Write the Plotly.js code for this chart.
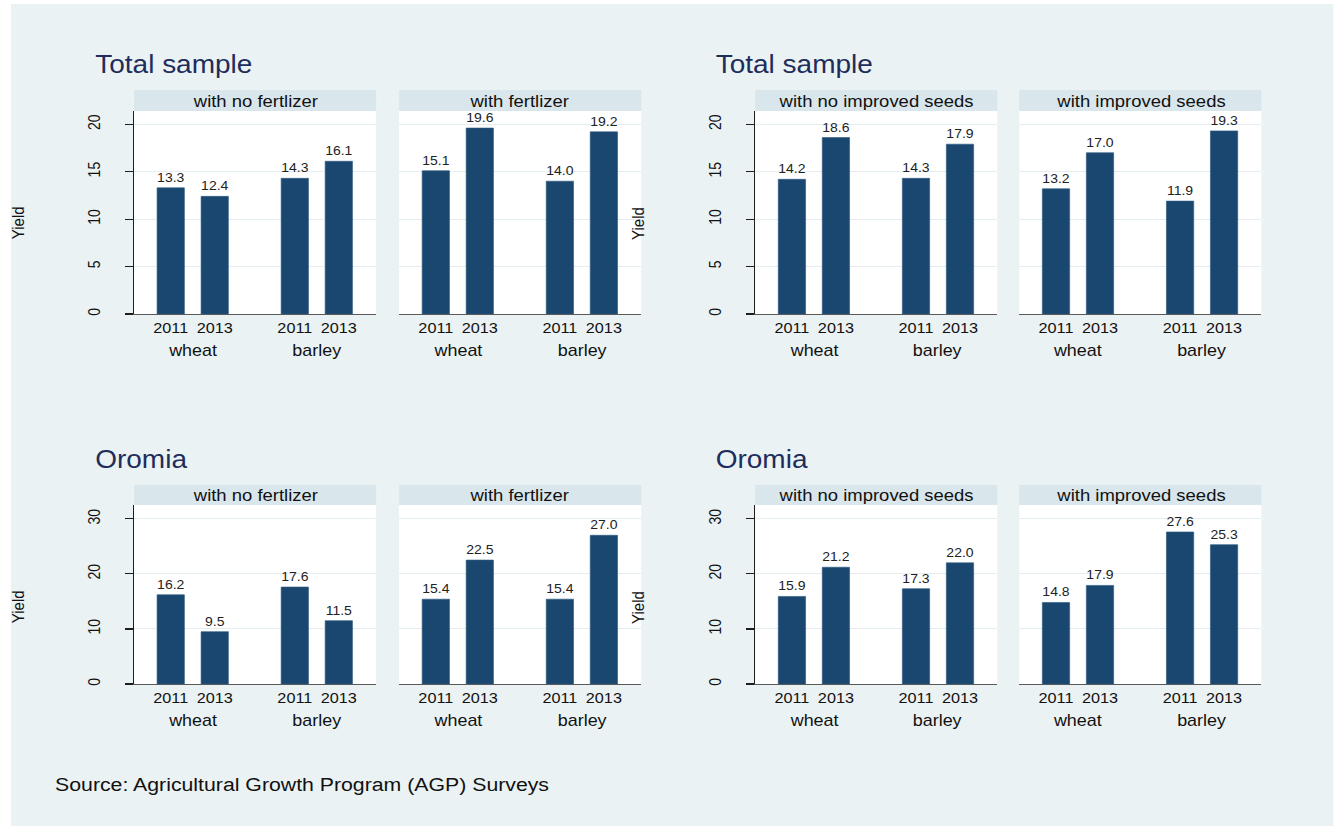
<!DOCTYPE html>
<html>
<head>
<meta charset="utf-8">
<script src="https://cdn.plot.ly/plotly-3.0.1.min.js"></script>
<style>
  html, body { margin: 0; padding: 0; background: #ffffff; overflow: hidden; }
  #chart { position: absolute; left: 0; top: 0; transform-origin: 0 0; }
</style>
</head>
<body>
<div id="chart"></div>
<script>
// Yield by crop and survey year, split by input use
const crops = ['wheat', 'barley'];
const years = ['2011', '2013'];
const regions = ['Total sample', 'Oromia'];
const facetLabels = ['with no fertlizer', 'with fertlizer', 'with no improved seeds', 'with improved seeds'];

// values ordered: wheat 2011, wheat 2013, barley 2011, barley 2013
const totalNoFertilizer = [13.3, 12.4, 14.3, 16.1];
const totalFertilizer = [15.1, 19.6, 14.0, 19.2];
const totalNoImprovedSeeds = [14.2, 18.6, 14.3, 17.9];
const totalImprovedSeeds = [13.2, 17.0, 11.9, 19.3];
const oromiaNoFertilizer = [16.2, 9.5, 17.6, 11.5];
const oromiaFertilizer = [15.4, 22.5, 15.4, 27.0];
const oromiaNoImprovedSeeds = [15.9, 21.2, 17.3, 22.0];
const oromiaImprovedSeeds = [14.8, 17.9, 27.6, 25.3];

const panelValues = [
  [totalNoFertilizer, totalFertilizer, totalNoImprovedSeeds, totalImprovedSeeds],
  [oromiaNoFertilizer, oromiaFertilizer, oromiaNoImprovedSeeds, oromiaImprovedSeeds]
];

// The graph is laid out narrower and widened with a horizontal scale,
// which gives the wide lettering of the exported figure.
const PAGE_W = 1338, PAGE_H = 826, STRETCH = 1.12;
const W = PAGE_W / STRETCH, H = PAGE_H;
const fx = px => px / PAGE_W;
const fy = py => 1 - py / PAGE_H;

const colX = [[134, 376], [399, 641], [755, 997], [1019, 1261]];
const rows = [
  { strip: [90, 111], plot: [111, 314], yMax: 21.4, dtick: 5, groupY: 350, titleY: 64, yieldY: 223 },
  { strip: [485, 505], plot: [505, 684], yMax: 32.5, dtick: 10, groupY: 720, titleY: 459, yieldY: 607 }
];

const groupStep = 2.82;      // distance between crop groups, in bar slots
const barColor = '#1A476F';
const font = 'Liberation Sans, Arial, sans-serif';

// category positions built from the crop/year arrays
const xPos = [], xText = [];
crops.forEach((c, g) => years.forEach((y, j) => { xPos.push(g * groupStep + j); xText.push(y); }));
const groupCenters = crops.map((c, g) => g * groupStep + (years.length - 1) / 2);

const data = [];
const layout = {
  width: W, height: H,
  margin: { l: 0, r: 0, t: 0, b: 0 },
  paper_bgcolor: '#FFFFFF',
  plot_bgcolor: 'rgba(0,0,0,0)',
  showlegend: false,
  font: { family: font, color: '#111111' },
  shapes: [{
    // graph region background
    type: 'rect', xref: 'paper', yref: 'paper', layer: 'below',
    x0: fx(11), x1: fx(1333), y0: 0, y1: fy(4),
    fillcolor: '#EAF2F3', line: { width: 0 }
  }],
  annotations: []
};

rows.forEach((row, r) => {
  for (let c = 0; c < 4; c++) {
    const k = r * 4 + c + 1;
    const xa = 'x' + (k === 1 ? '' : k);
    const ya = 'y' + (k === 1 ? '' : k);
    const vals = panelValues[r][c];
    data.push({
      type: 'bar',
      x: xPos, y: vals,
      xaxis: xa, yaxis: ya,
      width: 0.62,
      marker: { color: barColor, line: { color: '#2d5a82', width: 0.6 } },
      texttemplate: '%{y:.1f}',
      textposition: 'outside',
      constraintext: 'none',
      cliponaxis: false,
      textfont: { size: 12.5, color: '#222222', family: font },
      hoverinfo: 'x+y'
    });
    const isLeft = (c % 2 === 0);
    layout['xaxis' + (k === 1 ? '' : k)] = {
      domain: [fx(colX[c][0]), fx(colX[c][1])],
      anchor: ya,
      range: [-0.834, xPos[xPos.length - 1] + 0.848],
      tickvals: xPos, ticktext: xText,
      ticks: '', showgrid: false, zeroline: false,
      showline: true, linecolor: '#5a5a5a', linewidth: 1.2,
      tickfont: { size: 14.5, color: '#111111' },
      ticklabelstandoff: 0,
      fixedrange: true
    };
    layout['yaxis' + (k === 1 ? '' : k)] = {
      domain: [fy(row.plot[1]), fy(row.plot[0])],
      anchor: xa,
      range: [0, row.yMax],
      dtick: row.dtick, tick0: 0,
      showgrid: true, gridcolor: '#E4EDEF', gridwidth: 1,
      zeroline: false,
      showline: isLeft, linecolor: '#1e1e1e', linewidth: 1.2,
      ticks: isLeft ? 'outside' : '', ticklen: 7, tickcolor: '#1e1e1e', tickwidth: 1.2,
      showticklabels: isLeft,
      tickangle: -90,
      ticklabelstandoff: 17,
      tickfont: { size: 14, color: '#111111' },
      fixedrange: true
    };
    // white plotting region
    layout.shapes.push({
      type: 'rect', xref: 'paper', yref: 'paper', layer: 'below',
      x0: fx(colX[c][0]), x1: fx(colX[c][1]),
      y0: fy(row.plot[1]), y1: fy(row.plot[0]),
      fillcolor: '#FFFFFF', line: { width: 0 }
    });
    // facet strip
    layout.shapes.push({
      type: 'rect', xref: 'paper', yref: 'paper', layer: 'below',
      x0: fx(colX[c][0]), x1: fx(colX[c][1]),
      y0: fy(row.strip[1]), y1: fy(row.strip[0]),
      fillcolor: '#D9E6EB', line: { width: 0 }
    });
    layout.annotations.push({
      xref: 'paper', yref: 'paper',
      x: fx((colX[c][0] + colX[c][1]) / 2), y: fy((row.strip[0] + row.strip[1]) / 2),
      xanchor: 'center', yanchor: 'middle', showarrow: false,
      text: facetLabels[c], font: { size: 16.5, color: '#111111' }
    });
    // crop group labels under the year ticks
    crops.forEach((crop, g) => {
      layout.annotations.push({
        xref: xa, yref: 'paper',
        x: groupCenters[g], y: fy(row.groupY),
        xanchor: 'center', yanchor: 'middle', showarrow: false,
        text: crop, font: { size: 16, color: '#111111' }
      });
    });
  }
  // region titles and y-axis titles for the two halves
  [0, 2].forEach(c => {
    layout.annotations.push({
      xref: 'paper', yref: 'paper',
      x: fx(c === 0 ? 93 : 713), y: fy(row.titleY),
      xanchor: 'left', yanchor: 'middle', showarrow: false,
      text: regions[r], font: { size: 25, color: '#1E2D5C' }
    });
    layout.annotations.push({
      xref: 'paper', yref: 'paper',
      x: fx(c === 0 ? 17 : 637), y: fy(row.yieldY),
      xanchor: 'center', yanchor: 'middle', showarrow: false,
      textangle: -90,
      text: 'Yield', font: { size: 15, color: '#111111' }
    });
  });
});

layout.annotations.push({
  xref: 'paper', yref: 'paper',
  x: fx(53), y: fy(784),
  xanchor: 'left', yanchor: 'middle', showarrow: false,
  text: 'Source: Agricultural Growth Program (AGP) Surveys',
  font: { size: 19, color: '#111111' }
});

const el = document.getElementById('chart');
el.style.width = W + 'px';
el.style.height = H + 'px';
el.style.transform = 'scaleX(' + STRETCH + ')';
Plotly.newPlot(el, data, layout, { displayModeBar: false, staticPlot: true });
</script>
</body>
</html>
